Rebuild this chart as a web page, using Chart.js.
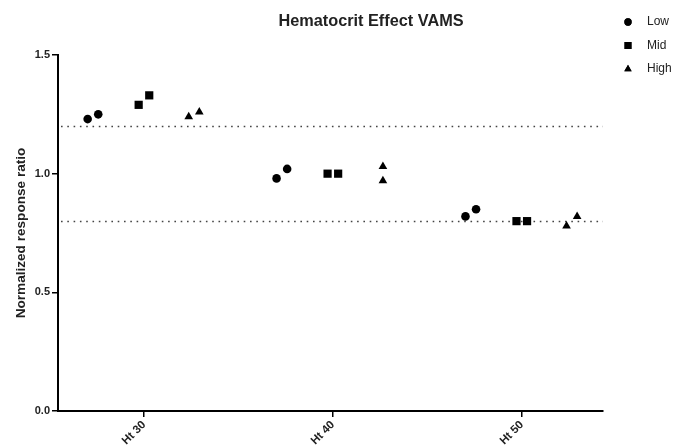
<!DOCTYPE html>
<html>
<head>
<meta charset="utf-8">
<script src="https://cdn.jsdelivr.net/npm/chart.js@4.4.1/dist/chart.umd.min.js"></script>
<style>
  html, body { margin: 0; padding: 0; background: #fff; }
  #wrap { width: 675px; height: 448px; }
</style>
</head>
<body>
<div id="wrap"><canvas id="grafica"></canvas></div>
<script>
// --- datos ---
const groups = ['Ht 30', 'Ht 40', 'Ht 50'];
const seriesNames = ['Low', 'Mid', 'High'];
const lowValues  = [[1.23, 1.25], [0.98, 1.02], [0.82, 0.85]];
const midValues  = [[1.29, 1.33], [1.00, 1.00], [0.80, 0.80]];
const highValues = [[1.24, 1.26], [1.03, 0.97], [0.78, 0.82]];
const refLines = [1.2, 0.8];
const yTicks = [0, 0.5, 1.0, 1.5];

// --- estilo / posicion ---
const subOffset = [-0.27, 0, 0.265];
const jitter = 0.028;
const pointStyles = ['circle', 'rect', 'triangle'];
const pointSizes = [4.3, 5.8, 5];

function buildPoints(values, s) {
    const pts = [];
    values.forEach((pair, g) => {
        // Ht 40 High: los dos puntos en la misma columna
        const same = (s === 2 && g === 1);
        pair.forEach((v, k) => {
            const j = same ? 0 : (k === 0 ? -jitter : jitter);
            pts.push({ x: g + subOffset[s] + j, y: v });
        });
    });
    return pts;
}

const allValues = [lowValues, midValues, highValues];
const datasets = seriesNames.map((name, s) => ({
    label: name,
    data: buildPoints(allValues[s], s),
    pointStyle: pointStyles[s],
    pointRadius: pointSizes[s],
    pointHoverRadius: pointSizes[s],
    backgroundColor: '#000',
    borderColor: '#000',
    borderWidth: 0
}));

const extras = {
    id: 'extras',
    beforeDatasetsDraw(chart) {
        const ctx = chart.ctx, a = chart.chartArea, y = chart.scales.y;
        ctx.save();
        ctx.strokeStyle = '#444';
        ctx.lineWidth = 1.6;
        ctx.setLineDash([1.6, 4.7]);
        refLines.forEach(v => {
            const py = Math.round(y.getPixelForValue(v)) + 0.5;
            ctx.beginPath();
            ctx.moveTo(a.left + 3, py);
            ctx.lineTo(a.right, py);
            ctx.stroke();
        });
        ctx.restore();
    },
    afterDraw(chart) {
        const ctx = chart.ctx;
        ctx.save();
        ctx.fillStyle = '#222';
        ctx.font = 'bold 16.3px "Liberation Sans", Arial, sans-serif';
        ctx.textAlign = 'center';
        ctx.textBaseline = 'middle';
        ctx.fillText('Hematocrit Effect VAMS', 371, 22);

        // leyenda
        ctx.font = '12px "Liberation Sans", Arial, sans-serif';
        ctx.textAlign = 'left';
        chart.data.datasets.forEach((ds, i) => {
            const ly = 22 + i * 23.5;
            ctx.fillStyle = '#000';
            Chart.helpers.drawPoint(ctx, {
                pointStyle: ds.pointStyle,
                radius: ds.pointRadius * 0.85,
                borderWidth: 0
            }, 628, ly);
            ctx.fill();
            ctx.fillStyle = '#222';
            ctx.fillText(ds.label, 647, ly);
        });
        ctx.restore();
    }
};

new Chart(document.getElementById('grafica'), {
    type: 'scatter',
    data: { datasets },
    options: {
        responsive: true,
        maintainAspectRatio: false,
        animation: false,
        layout: { padding: { left: 0, top: 55, right: 72, bottom: 0 } },
        plugins: {
            legend: { display: false },
            tooltip: { enabled: false },
            title: { display: false }
        },
        scales: {
            x: {
                type: 'linear',
                min: -0.455,
                max: 2.43,
                afterBuildTicks: s => { s.ticks = groups.map((g, i) => ({ value: i })); },
                afterFit: s => { s.height = 37; },
                ticks: {
                    callback: v => groups[v],
                    minRotation: 45,
                    maxRotation: 45,
                    color: '#222',
                    padding: 1,
                    font: { family: '"Liberation Sans", Arial, sans-serif', size: 11.5, weight: 'bold' }
                },
                grid: { drawOnChartArea: false, tickLength: 6, color: '#000', lineWidth: 1.5 },
                border: { display: true, color: '#000', width: 2 }
            },
            y: {
                min: 0,
                max: 1.5,
                afterBuildTicks: s => { s.ticks = yTicks.map(v => ({ value: v })); },
                afterFit: s => { s.width = 58; },
                ticks: {
                    callback: v => v.toFixed(1),
                    color: '#222',
                    padding: 2,
                    font: { family: '"Liberation Sans", Arial, sans-serif', size: 11, weight: 'bold' }
                },
                title: {
                    display: true,
                    text: 'Normalized response ratio',
                    color: '#222',
                    padding: { top: 13, bottom: 0 },
                    font: { family: '"Liberation Sans", Arial, sans-serif', size: 13.6, weight: 'bold' }
                },
                grid: { drawOnChartArea: false, tickLength: 6, color: '#000', lineWidth: 1.5 },
                border: { display: true, color: '#000', width: 2 }
            }
        }
    },
    plugins: [extras]
});
</script>
</body>
</html>
